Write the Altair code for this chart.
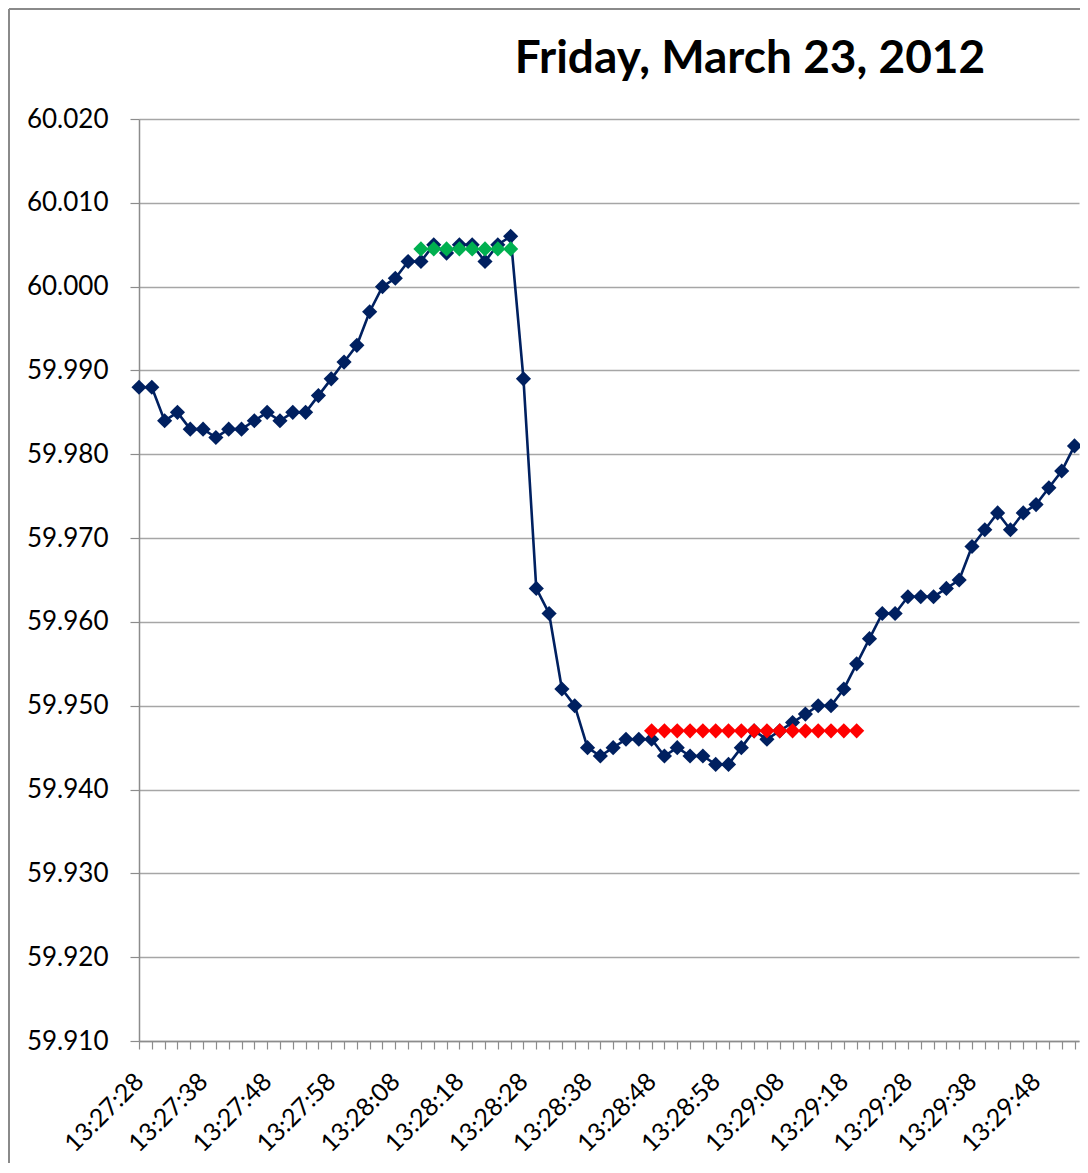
import altair as alt
import pandas as pd

# Frequency readings (Hz), one every 2 seconds starting 13:27:28
freq = [
    59.988, 59.988, 59.984, 59.985, 59.983, 59.983, 59.982, 59.983, 59.983, 59.984,
    59.985, 59.984, 59.985, 59.985, 59.987, 59.989, 59.991, 59.993, 59.997, 60.000,
    60.001, 60.003, 60.003, 60.005, 60.004, 60.005, 60.005, 60.003, 60.005, 60.006,
    59.989, 59.964, 59.961, 59.952, 59.950, 59.945, 59.944, 59.945, 59.946, 59.946,
    59.946, 59.944, 59.945, 59.944, 59.944, 59.943, 59.943, 59.945, 59.947, 59.946,
    59.947, 59.948, 59.949, 59.950, 59.950, 59.952, 59.955, 59.958, 59.961, 59.961,
    59.963, 59.963, 59.963, 59.964, 59.965, 59.969, 59.971, 59.973, 59.971, 59.973,
    59.974, 59.976, 59.978, 59.981,
]

# Pre-event average (green), sample positions 22..29
green_start = 22
green_vals = [60.0045, 60.0045, 60.0045, 60.0045, 60.0045, 60.0045, 60.0045, 60.0045]

# Post-event average (red), sample positions 40..56
red_start = 40
red_vals = [59.947, 59.947, 59.947, 59.947, 59.947, 59.947, 59.947, 59.947, 59.947,
            59.947, 59.947, 59.947, 59.947, 59.947, 59.947, 59.947, 59.947]

tick_labels = ["13:27:28", "13:27:38", "13:27:48", "13:27:58", "13:28:08",
               "13:28:18", "13:28:28", "13:28:38", "13:28:48", "13:28:58",
               "13:29:08", "13:29:18", "13:29:28", "13:29:38", "13:29:48"]

y_ticks = [59.910, 59.920, 59.930, 59.940, 59.950, 59.960, 59.970, 59.980,
           59.990, 60.000, 60.010, 60.020]

title_text = ["Friday, March 23, 2012"]

main = pd.DataFrame({"i": list(range(len(freq))), "f": freq})
green = pd.DataFrame({"i": list(range(green_start, green_start + len(green_vals))), "f": green_vals})
red = pd.DataFrame({"i": list(range(red_start, red_start + len(red_vals))), "f": red_vals})

FONT = "Lato"
NAVY = "#002060"

label_arr = "[" + ",".join("'" + t + "'" for t in tick_labels) + "]"
label_expr = f"datum.value % 5 == 0 ? {label_arr}[datum.value / 5] : ''"

x_enc = alt.X(
    "i:Q",
    scale=alt.Scale(domain=[0, 73.35], nice=False, zero=False),
    axis=alt.Axis(
        values=list(range(len(freq))),
        tickCount=200,
        labelExpr=label_expr,
        labelAngle=-45,
        labelAlign="right",
        labelBaseline="middle",
        labelPadding=28,
        labelFont=FONT,
        labelFontSize=25,
        labelColor="#000000",
        labelOverlap=False,
        labelFlush=False,
        tickSize=8,
        tickColor="#8c8c8c",
        tickWidth=1.2,
        domainColor="#8c8c8c",
        domainWidth=1.5,
        grid=False,
        title=None,
    ),
)

y_enc = alt.Y(
    "f:Q",
    scale=alt.Scale(domain=[59.910, 60.020], nice=False, zero=False),
    axis=alt.Axis(
        values=y_ticks,
        tickCount=50,
        format=".3f",
        labelFont=FONT,
        labelFontSize=26,
        labelColor="#000000",
        labelPadding=22,
        tickSize=9,
        tickColor="#8c8c8c",
        tickWidth=1.2,
        domainColor="#8c8c8c",
        domainWidth=1.5,
        grid=True,
        gridColor="#a6a6a6",
        gridWidth=1.5,
        title=None,
    ),
)

line = alt.Chart(main).mark_line(color=NAVY, strokeWidth=2.6).encode(x=x_enc, y=y_enc)
pts = alt.Chart(main).mark_point(shape="diamond", filled=True, color=NAVY, size=230, opacity=1).encode(x="i:Q", y="f:Q")
gpts = alt.Chart(green).mark_point(shape="diamond", filled=True, color="#00b050", size=230, opacity=1).encode(x="i:Q", y="f:Q")
rpts = alt.Chart(red).mark_point(shape="diamond", filled=True, color="#ff0000", size=230, opacity=1).encode(x="i:Q", y="f:Q")

title = alt.Chart(pd.DataFrame({"t": title_text})).mark_text(
    font=FONT, fontSize=46, fontWeight="bold", color="#000000",
    align="center", baseline="alphabetic",
).encode(text="t:N", x=alt.value(611), y=alt.value(-46))

one = pd.DataFrame({"a": [0]})
border_left = alt.Chart(one).mark_rule(color="#8a8a8a", strokeWidth=2).encode(
    x=alt.value(-130), y=alt.value(-110), y2=alt.value(1050))
border_top = alt.Chart(one).mark_rule(color="#8a8a8a", strokeWidth=2).encode(
    x=alt.value(-130), x2=alt.value(945), y=alt.value(-110))

chart = alt.layer(line, pts, gpts, rpts, title, border_left, border_top).properties(
    width=940,
    height=922,
    autosize=alt.AutoSizeParams(type="none"),
    padding={"left": 131, "top": 111, "right": 1, "bottom": 122},
    background="white",
).configure_view(strokeWidth=0)

chart.save("out.html", embed_options={"renderer": "svg", "actions": False})
